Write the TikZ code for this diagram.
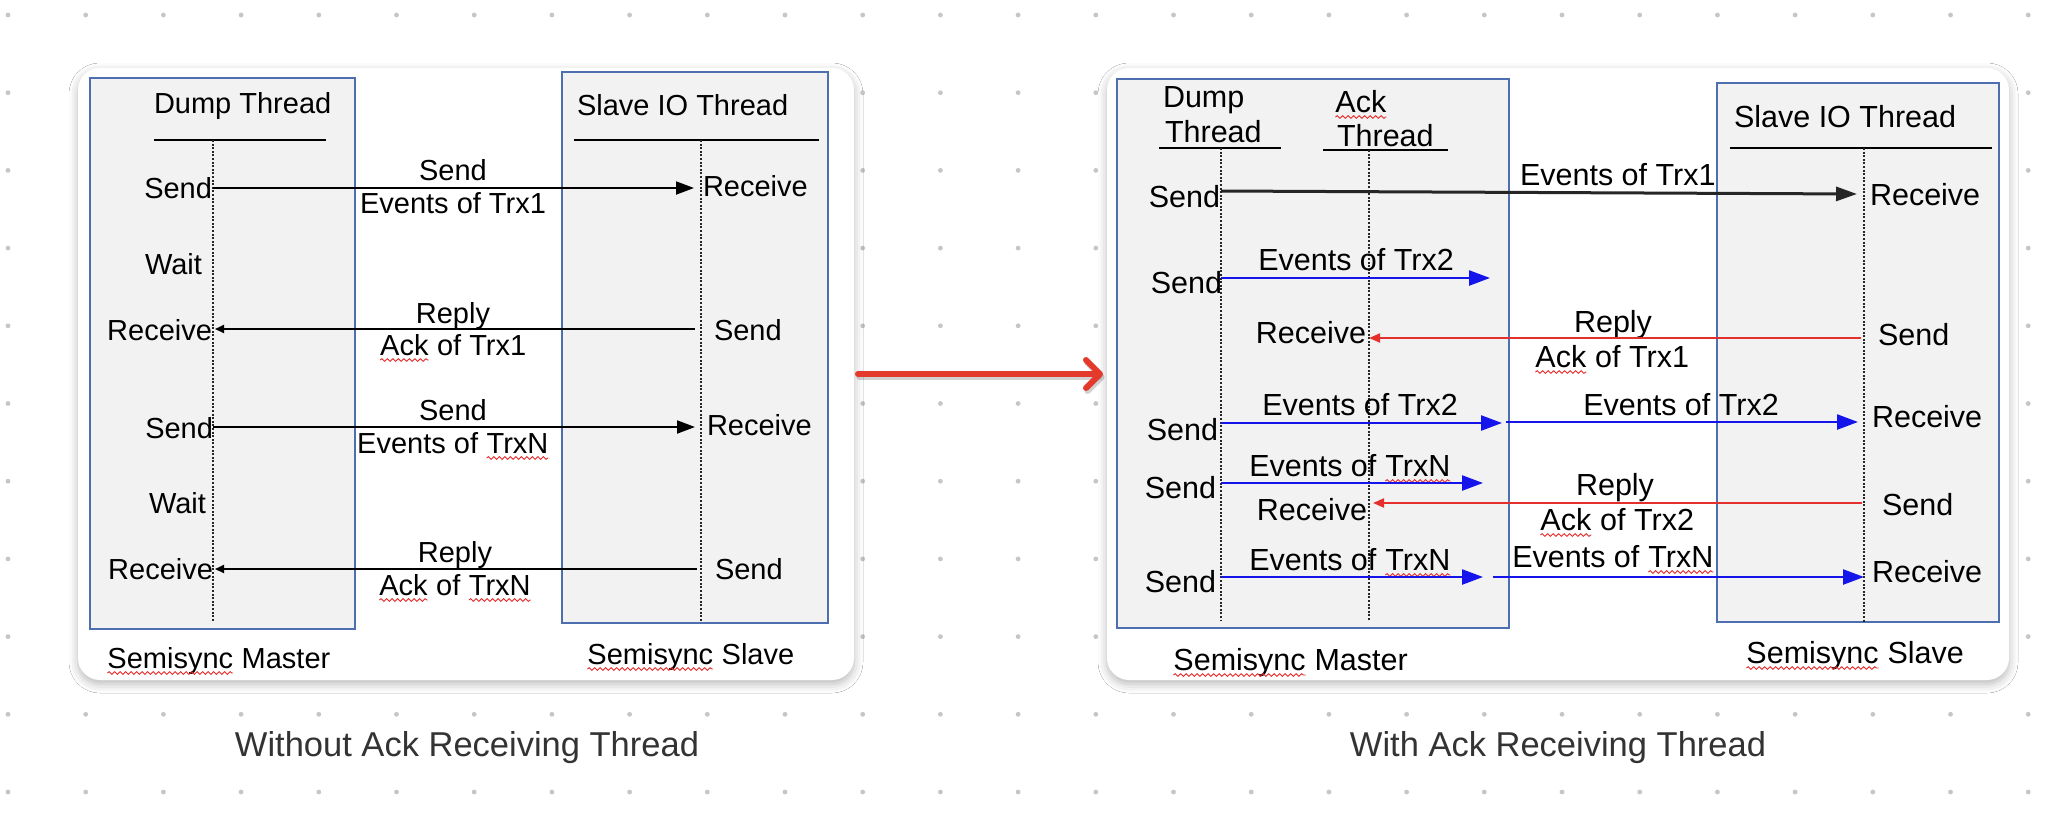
\documentclass[tikz,border=0pt]{standalone}
\usepackage{fontspec}
\setmainfont{Liberation Sans}
\usetikzlibrary{arrows.meta,decorations.pathmorphing,shadows.blur}
\definecolor{boxborder}{HTML}{4D6FB0}
\definecolor{boxfill}{HTML}{F2F2F2}
\definecolor{dotc}{HTML}{C6C6C6}
\definecolor{msgblue}{RGB}{20,20,235}
\definecolor{msgred}{RGB}{228,48,44}
\definecolor{bigred}{RGB}{228,58,44}
\definecolor{captxt}{HTML}{333333}
\definecolor{sqred}{RGB}{230,40,40}
\tikzset{
  card/.style={fill=white, rounded corners=22pt, inner sep=0pt, outer sep=0pt,
    blur shadow={shadow xshift=0pt, shadow yshift=-4pt, shadow blur radius=9pt, shadow opacity=28}},
  box/.style={draw=boxborder, fill=boxfill, line width=1.8pt},
  uline/.style={draw=black, line width=2.2pt},
  life/.style={draw=black!85, line width=1.3pt, dash pattern=on 2pt off 1.6pt},
  lblL/.style={inner sep=0pt, outer sep=0pt, font=\fontsize{29}{34}\selectfont},
  lblR/.style={inner sep=0pt, outer sep=0pt, font=\fontsize{30.5}{35}\selectfont},
  captext/.style={inner sep=0pt, outer sep=0pt, text=captxt, font=\fontsize{34.5}{40}\selectfont},
  blkmsg/.style={draw=black, line width=2pt},
  bluemsg/.style={draw=msgblue, line width=2.4pt, -{Triangle[length=21pt,width=15pt]}},
  redmsg/.style={draw=msgred, line width=2pt, -{Triangle[length=11pt,width=9pt]}},
  sqline/.style={draw=sqred, line width=0.9pt, decorate,
    decoration={snake, amplitude=1.3pt, segment length=5.5pt}},
  bigarr/.style={draw=bigred, line width=6pt, line cap=round,
    -{Straight Barb[round, length=14pt, width=28pt]}},
}
\newcommand\sqw[1]{\tikz[baseline=(sqw.base)]{\node[inner sep=0pt,outer sep=0pt,anchor=base] (sqw) at (0,0) {#1};\draw[sqline] ([yshift=-5pt]sqw.base west) -- ([yshift=-5pt]sqw.base east);}}
\begin{document}
\begin{tikzpicture}[x=1pt,y=-1pt]
\useasboundingbox (0,0) rectangle (2058,836);
\fill[white] (0,0) rectangle (2058,836);
% dot grid
\foreach \i in {0,...,26} {
  \foreach \j in {0,...,10} {
    \fill[dotc] ({8+77.7*\i},{15+77.7*\j}) circle (2.4pt);
  }
}
% cards
\node[card, minimum width=776pt, minimum height=612pt] (lcard) at (466,374) {};
\node[card, minimum width=902pt, minimum height=612pt] (rcard) at (1558,374) {};
% big arrow
\draw[bigarr, draw=black, opacity=0.18, transform canvas={xshift=1.5pt,yshift=-3pt}] ([xshift=4pt]lcard.east) -- ([xshift=-4pt]rcard.west);
\draw[bigarr] ([xshift=4pt]lcard.east) -- ([xshift=-4pt]rcard.west);

% ================= LEFT PANEL =================
\draw[box] (90,78) rectangle (355,629);
\draw[box] (562,72) rectangle (828,623);
\node[lblL, anchor=base west] (ldump) at (154,113) {Dump Thread};
\node[lblL, anchor=base west] (lsio) at (577,115) {Slave IO Thread};
\draw[uline] (154,140) -- (326,140);
\draw[uline] (574,140) -- (819,140);
\coordinate (lL) at (213,140);
\coordinate (lR) at (701,140);
\draw[life] (lL) -- (lL |- 0,621);
\draw[life] (lR) -- (lR |- 0,621);
% row 1
\node[lblL, anchor=base east] (l1a) at (212,198) {Send};
\node[lblL, anchor=base west] (l1b) at (703,196) {Receive};
\node[lblL, anchor=base] (l1c) at (453,180) {Send};
\node[lblL, anchor=base] (l1d) at (453,213) {Events of Trx1};
\draw[blkmsg, -{Triangle[length=18pt,width=13pt]}, shorten >=7pt] (lL |- 0,188) -- (lR |- 0,188);
\node[lblL, anchor=base west] (lw1) at (145,274) {Wait};
% row 2
\node[lblL, anchor=base east] (l2a) at (212,340) {Receive};
\node[lblL, anchor=base west] (l2b) at (714,340) {Send};
\node[lblL, anchor=base] (l2c) at (453,323) {Reply};
\node[lblL, anchor=base] (l2d) at (453,355) {\sqw{Ack} of Trx1};
\draw[blkmsg, -{Triangle[length=9pt,width=8pt]}, shorten <=6pt, shorten >=2pt] (lR |- 0,329) -- (lL |- 0,329);
% row 3
\node[lblL, anchor=base east] (l3a) at (213,438) {Send};
\node[lblL, anchor=base west] (l3b) at (707,435) {Receive};
\node[lblL, anchor=base] (l3c) at (453,420) {Send};
\node[lblL, anchor=base] (l3d) at (453,453) {Events of \sqw{TrxN}};
\draw[blkmsg, -{Triangle[length=18pt,width=13pt]}, shorten >=6pt] (lL |- 0,427) -- (lR |- 0,427);
\node[lblL, anchor=base west] (lw2) at (149,513) {Wait};
% row 4
\node[lblL, anchor=base east] (l4a) at (213,579) {Receive};
\node[lblL, anchor=base west] (l4b) at (715,579) {Send};
\node[lblL, anchor=base] (l4c) at (455,562) {Reply};
\node[lblL, anchor=base] (l4d) at (455,595) {\sqw{Ack} of \sqw{TrxN}};
\draw[blkmsg, -{Triangle[length=9pt,width=8pt]}, shorten <=4pt, shorten >=2pt] (lR |- 0,569) -- (lL |- 0,569);
% footer
\node[lblL, anchor=base west] (lmas) at (107,668) {\sqw{Semisync} Master};
\node[lblL, anchor=base west] (lsla) at (587,664) {\sqw{Semisync} Slave};

% ================= RIGHT PANEL =================
\draw[box] (1117,79) rectangle (1509,628);
\draw[box] (1717,83) rectangle (1999,622);
\node[lblR, anchor=base west] (rd1) at (1163,107) {Dump};
\node[lblR, anchor=base west] (rd2) at (1165,142) {Thread};
\node[lblR, anchor=base west] (ra1) at (1335,112) {\sqw{Ack}};
\node[lblR, anchor=base west] (ra2) at (1337,146) {Thread};
\draw[uline] (1159,148) -- (1281,148);
\draw[uline] (1323,150) -- (1448,150);
\node[lblR, anchor=base west] (rsio) at (1734,127) {Slave IO Thread};
\draw[uline] (1730,148) -- (1992,148);
\coordinate (rD) at (1221,148);
\coordinate (rA) at (1369,150);
\coordinate (rS) at (1864,148);
\draw[life] (rD) -- (rD |- 0,620);
\draw[life] (rA) -- (rA |- 0,620);
\draw[life] (rS) -- (rS |- 0,622);
% row 1
\node[lblR, anchor=base east] (r1a) at (1220,207) {Send};
\node[lblR, anchor=base west] (r1b) at (1870,205) {Receive};
\node[lblR, anchor=base west] (r1c) at (1520,185) {Events of Trx1};
\draw[draw=black!85, line width=3pt, -{Triangle[length=21pt,width=14pt]}] (rD |- 0,191) -- ([xshift=-7pt]rS |- 0,194);
% row 2
\node[lblR, anchor=base east] (r2a) at (1222,293) {Send};
\node[lblR, anchor=base] (r2c) at (1356,270) {Events of Trx2};
\coordinate (r2e) at (1490,278);
\draw[bluemsg] (rD |- 0,278) -- (r2e);
% row 3
\node[lblR, anchor=base east] (r3a) at (1366,343) {Receive};
\node[lblR, anchor=base west] (r3b) at (1878,345) {Send};
\node[lblR, anchor=base] (r3c) at (1613,332) {Reply};
\node[lblR, anchor=base] (r3d) at (1612,367) {\sqw{Ack} of Trx1};
\draw[redmsg, shorten <=3pt] (rS |- 0,338) -- (rA |- 0,338);
% row 4
\node[lblR, anchor=base east] (r4a) at (1218,440) {Send};
\node[lblR, anchor=base west] (r4b) at (1872,427) {Receive};
\node[lblR, anchor=base] (r4c) at (1360,415) {Events of Trx2};
\node[lblR, anchor=base] (r4d) at (1681,415) {Events of Trx2};
\coordinate (r4m) at (1502,423);
\coordinate (r4n) at (1506,422);
\draw[bluemsg] (rD |- 0,423) -- (r4m);
\draw[bluemsg, shorten >=6pt] (r4n) -- (rS |- 0,422);
% row 5
\node[lblR, anchor=base east] (r5a) at (1216,498) {Send};
\node[lblR, anchor=base] (r5c) at (1350,476) {Events of \sqw{TrxN}};
\coordinate (r5e) at (1483,483);
\draw[bluemsg] (rD |- 0,483) -- (r5e);
\node[lblR, anchor=base east] (r5r) at (1367,520) {Receive};
\node[lblR, anchor=base west] (r5b) at (1882,515) {Send};
\node[lblR, anchor=base] (r5d) at (1615,495) {Reply};
\node[lblR, anchor=base] (r5f) at (1617,530) {\sqw{Ack} of Trx2};
\draw[redmsg, shorten <=2pt, shorten >=4pt] (rS |- 0,503) -- (rA |- 0,503);
% row 6
\node[lblR, anchor=base east] (r6a) at (1216,592) {Send};
\node[lblR, anchor=base west] (r6b) at (1872,582) {Receive};
\node[lblR, anchor=base] (r6c) at (1350,570) {Events of \sqw{TrxN}};
\node[lblR, anchor=base] (r6d) at (1613,567) {Events of \sqw{TrxN}};
\coordinate (r6e) at (1483,577);
\coordinate (r6s) at (1493,577);
\draw[bluemsg] (rD |- 0,577) -- (r6e);
\draw[bluemsg] (r6s) -- (rS |- 0,577);
% footer
\node[lblR, anchor=base west] (rmas) at (1173,670) {\sqw{Semisync} Master};
\node[lblR, anchor=base west] (rsla) at (1746,663) {\sqw{Semisync} Slave};

% captions
\node[captext, anchor=base] (capl) at (467,756) {Without Ack Receiving Thread};
\node[captext, anchor=base] (capr) at (1558,756) {With Ack Receiving Thread};
\end{tikzpicture}
\end{document}
